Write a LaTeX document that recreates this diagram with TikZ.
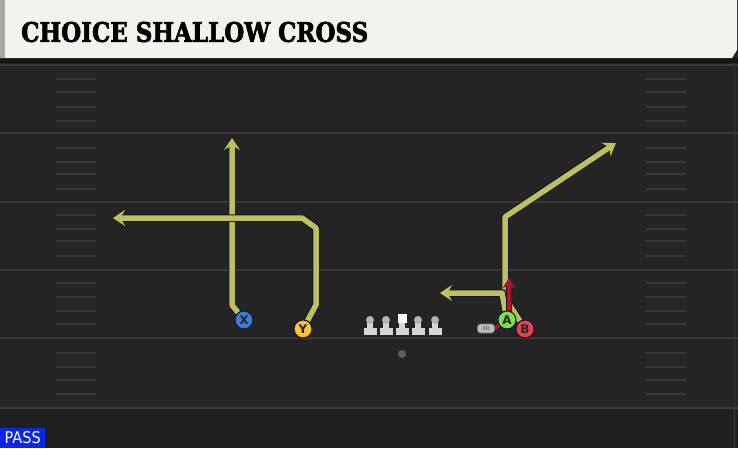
\documentclass[tikz,border=0pt]{standalone}
\usepackage{fontspec}
\usepackage{graphicx}
\usetikzlibrary{arrows.meta}
\newfontfamily\titlefont[FakeBold=2.5]{DejaVu Serif Bold}
\newfontfamily\labelfont{DejaVu Sans}
\definecolor{field}{HTML}{242424}
\definecolor{fieldlow}{HTML}{1F1F1F}
\definecolor{yardline}{HTML}{3A3A3A}
\definecolor{hashcol}{HTML}{383838}
\definecolor{cream}{HTML}{F4F2EC}
\definecolor{creamedge}{HTML}{A8A8A6}
\definecolor{band}{HTML}{141414}
\definecolor{olive}{HTML}{BFBF5E}
\definecolor{edge}{HTML}{14142A}
\definecolor{routered}{HTML}{B3122E}
\definecolor{xblue}{HTML}{3D7CD6}
\definecolor{yyellow}{HTML}{F5C431}
\definecolor{agreen}{HTML}{7BE04A}
\definecolor{bred}{HTML}{E8434B}
\definecolor{rbgray}{HTML}{BDBDBD}
\definecolor{passblue}{HTML}{0A26E8}
\definecolor{linemanlight}{HTML}{D6D6D6}
\definecolor{linemanhead}{HTML}{B4B4B4}
\pgfdeclarelayer{bg}
\pgfdeclarelayer{routes}
\pgfsetlayers{bg,routes,main}
\tikzset{
  olivepath/.style={draw=olive, line width=5.5pt, line join=round,
    preaction={draw=edge, line width=7.5pt}},
  olivetip/.style={-{Stealth[length=12pt,width=16pt,inset=4.5pt]}},
  redpath/.style={draw=routered, line width=4pt, line join=round,
    preaction={draw=edge, line width=6pt},
    -{Stealth[length=10pt,width=12pt,inset=3.5pt]}},
  player/.style={circle, draw=edge, line width=1pt, minimum size=18pt, inner sep=0pt,
    font=\labelfont\bfseries\fontsize{12}{12}\selectfont, text=black!85},
  yardstyle/.style={draw=yardline, line width=2pt},
  hashstyle/.style={draw=hashcol, line width=1.5pt},
}
\begin{document}
\begin{tikzpicture}[x=1pt,y=-1pt]
\useasboundingbox (0,0) rectangle (738,448);
\begin{pgfonlayer}{bg}
\fill[field] (0,0) rectangle (738,448);
\fill[fieldlow] (0,408) rectangle (738,448);
\foreach \yy in {65,133,202,270,338,408}
  \draw[yardstyle] (0,\yy) -- (738,\yy);
\foreach \yy in {79,92,107,121,148,162,174,189,215,229,241,256,283,297,311,324,353,367,380,394}{
  \draw[hashstyle] (56,\yy) -- (96,\yy);
  \draw[hashstyle] (646,\yy) -- (686,\yy);
}
\draw[draw=hashcol, line width=1pt] (734,63) -- (734,448);
\fill[band] (0,58) rectangle (738,63);
\fill[cream] (0,0) -- (737,0) -- (737,50) -- (732,58) -- (0,58) -- cycle;
\fill[creamedge] (0,0) rectangle (5,58);
\end{pgfonlayer}
\node[anchor=west, inner sep=0pt] (title) at (21,32)
  {\resizebox{347pt}{20pt}{\titlefont CHOICE SHALLOW CROSS}};
\node[fill=passblue, anchor=south west, minimum width=45pt, minimum height=20pt, inner sep=0pt,
  text=white] (pass) at (0,448) {\resizebox{36pt}{12pt}{\labelfont PASS}};
% offensive line
\foreach \xx in {370,386,418,435}{
  \fill[linemanlight] (\xx-6.5,328) rectangle (\xx+6.5,335);
  \fill[linemanlight] (\xx-2.8,321) rectangle (\xx+2.8,328);
  \fill[linemanhead] (\xx,320) circle (4);
}
\fill[linemanlight] (402-6.5,328) rectangle (402+6.5,335);
\fill[linemanlight] (402-2.8,322) rectangle (402+2.8,328);
\fill[white] (397.5,314) rectangle (406.5,323);
\node[circle, fill=gray!75!black, minimum size=8pt, inner sep=0pt] (ball) at (402,354) {};
% players
\node[player, fill=xblue] (X) at (244,320) {X};
\node[player, fill=yyellow] (Y) at (303,329) {Y};
\node[player, fill=agreen] (A) at (507,320) {A};
\node[player, fill=bred] (B) at (525,329) {B};
\node[rounded corners=3pt, fill=rbgray, draw=edge!60, line width=0.6pt, minimum width=17pt, minimum height=9pt,
  inner sep=0pt, font=\labelfont\fontsize{5}{5}\selectfont, text=black!70] (RB) at (486,328.5) {RB};
\coordinate (x1) at (232,305);
\coordinate (xend) at (232,138);
\coordinate (y1) at (316,305);
\coordinate (y2) at (316,228);
\coordinate (y3) at (302,218);
\coordinate (yend) at (113,218);
\coordinate (b1) at (505,298);
\coordinate (b2) at (505,217);
\coordinate (bend) at (616,143);
\coordinate (a1) at (502,293);
\coordinate (aend) at (440,293);
\coordinate (r1) at (509,318);
\coordinate (rend) at (509,278);
\begin{pgfonlayer}{routes}
\draw[olivepath, olivetip] (X) -- (x1) -- (xend);
\draw[olivepath, olivetip] (Y) -- (y1) -- (y2) -- (y3) -- (yend);
\draw[olivepath, olivetip] (B) -- (b1) -- (b2) -- (bend);
\draw[olivepath, olivetip] (A) -- (a1) -- (aend);
\draw[redpath] (RB.east) -- (r1) -- (rend);
\end{pgfonlayer}
\end{tikzpicture}
\end{document}
